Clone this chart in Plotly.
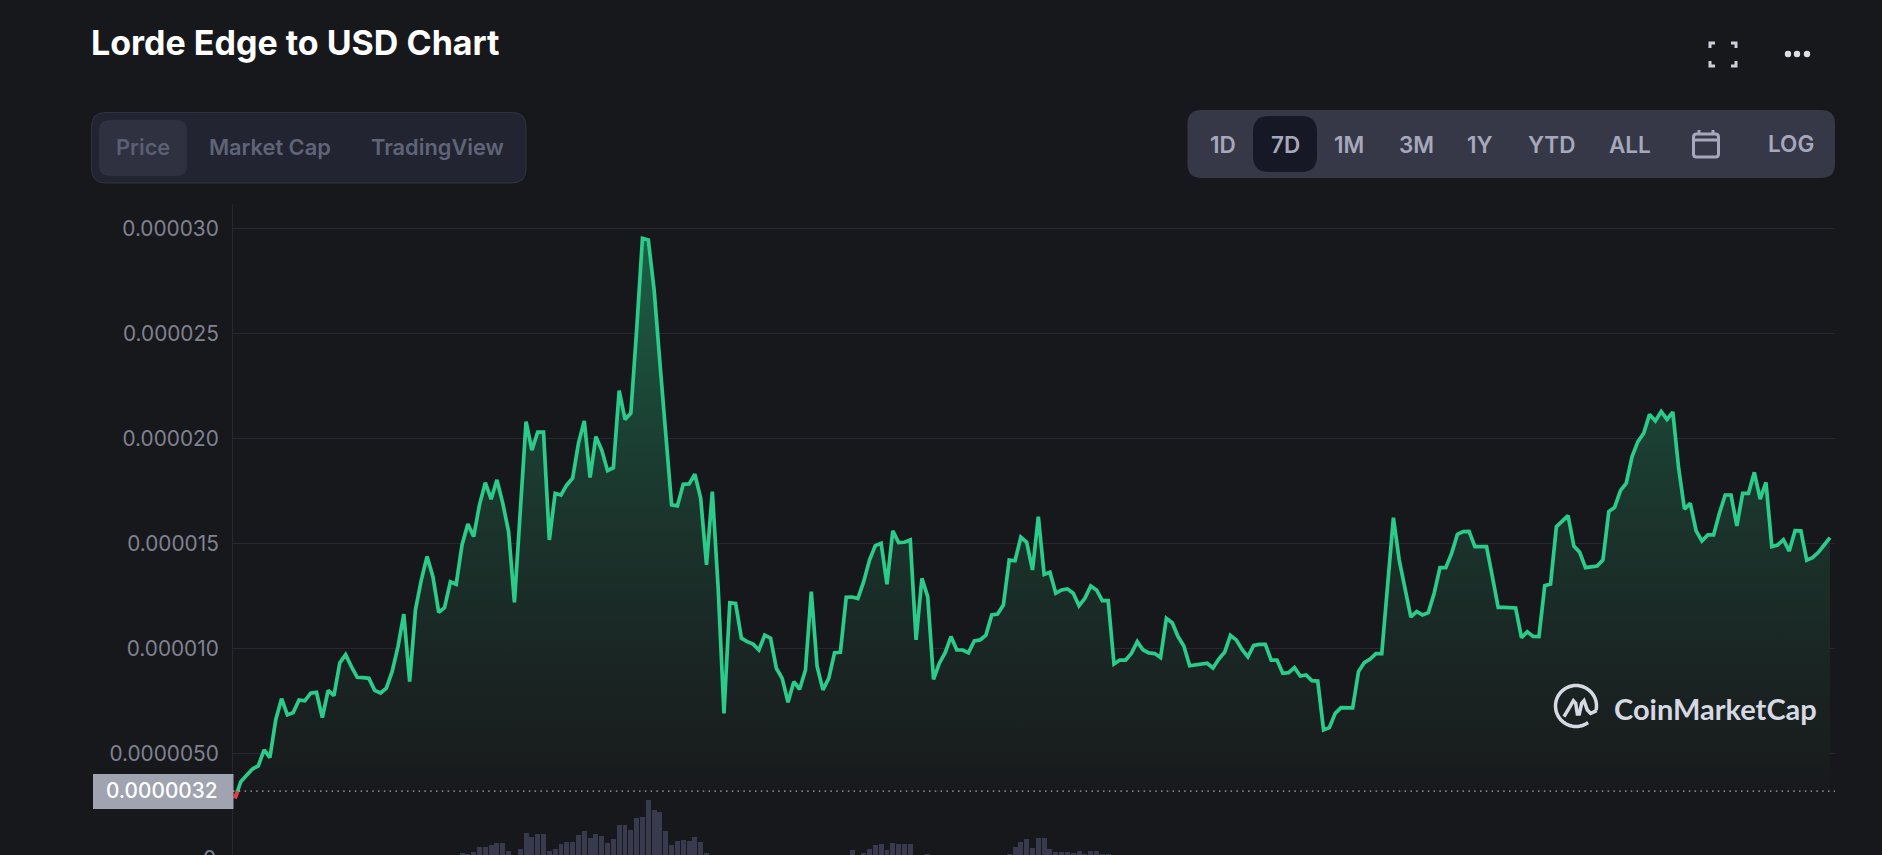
import math
import plotly.graph_objects as go

# ---- data (price in millionths of a USD) ----
title_text = "Lorde Edge to USD Chart"
price_micro = [
    2.86, 3.65, 3.95, 4.25, 4.40, 5.16, 4.80, 6.60, 7.60, 6.83, 6.94, 7.54, 7.50, 7.86, 7.90, 6.70,
    8.00, 7.75, 9.30, 9.70, 9.13, 8.62, 8.60, 8.57, 8.00, 7.87, 8.10, 8.90, 10.08, 11.63, 8.41, 11.83,
    13.25, 14.37, 13.41, 11.71, 11.94, 13.17, 13.05, 14.92, 15.92, 15.32, 16.83, 17.89, 17.10, 18.02,
    16.90, 15.56, 12.19,
    16.75, 20.79, 19.44, 20.29, 20.29, 15.16, 17.38, 17.30, 17.78, 18.10, 19.76, 20.83, 18.13, 20.08,
    19.44, 18.46, 18.60, 22.27, 20.90, 21.19, 25.16, 29.52, 29.44, 27.06, 23.57, 20.24, 16.83, 16.78,
    17.81, 17.83, 18.29, 17.14, 13.97, 17.46, 12.86, 6.90, 12.17, 12.14, 10.48, 10.32, 10.20, 9.92,
    10.63, 10.48, 9.05, 8.57, 7.43, 8.41, 8.05,
    8.97, 12.70, 9.13, 8.02, 8.57, 9.79, 9.81, 12.43, 12.44, 12.37, 13.17, 14.20, 14.89, 15.00, 13.05,
    15.59, 15.03, 15.05, 15.16, 10.40, 13.33, 12.46, 8.52, 9.29, 9.79, 10.56, 9.92, 9.92, 9.79, 10.35,
    10.40, 10.63, 11.59, 11.63, 12.06, 14.20, 14.17, 15.29, 15.05, 13.73, 16.27, 13.52, 13.62, 12.62,
    12.78, 12.83, 12.62, 12.03,
    12.38, 12.97, 12.78, 12.27, 12.27, 9.25, 9.44, 9.44, 9.76, 10.32, 9.92, 9.78, 9.75, 9.56, 11.43,
    11.22, 10.56, 10.11, 9.17, 9.21, 9.25, 9.29, 9.06, 9.49, 9.81, 10.62, 10.40, 9.95, 9.59, 10.14,
    10.19, 10.19, 9.44, 9.44, 8.81, 8.84, 9.08, 8.68, 8.73, 8.46, 8.44, 6.11, 6.22, 6.90, 7.17, 7.16,
    7.16, 8.89,
    9.32, 9.49, 9.75, 9.75, 13.25, 16.22, 14.20, 12.86, 11.49, 11.75, 11.59, 11.70, 12.62, 13.84, 13.84,
    14.52, 15.43, 15.56, 15.57, 14.84, 14.86, 14.84, 13.41, 11.95, 11.95, 11.94, 11.92, 10.51, 10.79,
    10.57, 10.56, 12.98, 13.06, 15.79, 16.08, 16.32, 14.87, 14.57, 13.84, 13.86, 13.92, 14.21, 16.51,
    16.71, 17.51, 17.86, 19.13, 19.84, 20.24, 21.14, 20.83, 21.27, 20.90, 21.25, 18.57, 16.63, 16.90,
    15.59, 15.11, 15.40, 15.40, 16.43, 17.30, 17.30, 15.83, 17.38, 17.38, 18.38, 17.10, 17.90, 14.84,
    14.92, 15.17, 14.63, 15.60, 15.59, 14.20, 14.32, 14.57, 14.92, 15.27,
]
volume_cluster_a = [4, 3, 5, 10, 10, 12, 14, 14, 6, 0, 8, 24, 20, 23, 23, 6, 8, 13, 15, 15, 22, 26,
                    19, 23, 21, 14, 18, 32, 32, 27, 39, 40, 57, 47, 45, 26, 12, 16, 17, 16, 20, 15, 4]
volume_cluster_b = [7, 0, 4, 8, 12, 13, 7, 14, 13, 13, 13, 0, 0, 3]
volume_cluster_c = [3, 10, 15, 18, 9, 19, 19, 8, 5, 5, 5, 4, 6, 3, 6, 6, 3, 3]
y_tick_values_micro = [5, 10, 15, 20, 25, 30]
y_tick_labels = ["0.0000050", "0.000010", "0.000015", "0.000020", "0.000025", "0.000030"]
current_price_micro = 3.2
current_price_label = "0.0000032"
tab_labels = ["Price", "Market Cap", "TradingView"]
range_labels = ["1D", "7D", "1M", "3M", "1Y", "YTD", "ALL", "LOG"]

# ---- geometry helpers ----
W, H = 1882, 855
FONT = "Inter"
BG = "#17181C"
px = lambda x: x / W
py = lambda y: 1 - y / H

def rrect(x0, y0, x1, y1, r):
    pts = [("M", x0 + r, y0), ("L", x1 - r, y0), ("Q", x1, y0, x1, y0 + r), ("L", x1, y1 - r),
           ("Q", x1, y1, x1 - r, y1), ("L", x0 + r, y1), ("Q", x0, y1, x0, y1 - r), ("L", x0, y0 + r),
           ("Q", x0, y0, x0 + r, y0)]
    out = []
    for p in pts:
        c = p[1:]
        s = " ".join(f"{px(c[i]):.6f},{py(c[i + 1]):.6f}" for i in range(0, len(c), 2))
        out.append(p[0] + s)
    return " ".join(out) + " Z"

def poly(points):
    return "M" + " L".join(f"{px(a):.6f},{py(b):.6f}" for a, b in points)

shapes, annots = [], []

def box(x0, y0, x1, y1, r, fill, line=None, lw=1):
    shapes.append(dict(type="path", xref="paper", yref="paper", path=rrect(x0, y0, x1, y1, r),
                       fillcolor=fill, line=dict(color=line or "rgba(0,0,0,0)", width=lw if line else 0)))

def stroke(points, color, lw=3):
    shapes.append(dict(type="path", xref="paper", yref="paper", path=poly(points),
                       line=dict(color=color, width=lw)))

def label(text, x, y, size, color, anchor="center", weight=400, family=FONT):
    annots.append(dict(xref="paper", yref="paper", x=px(x), y=py(y), text=text,
                       showarrow=False, xanchor=anchor, yanchor="middle",
                       font=dict(family=family, size=size, color=color, weight=weight)))

# ---- traces ----
prices = [v * 1e-6 for v in price_micro]
n = len(prices)
idx = list(range(n))
volume = [0] * 39 + volume_cluster_a
volume += [0] * (106 - len(volume)) + volume_cluster_b
volume += [0] * (133 - len(volume)) + volume_cluster_c
volume += [0] * (n - len(volume))
current = current_price_micro * 1e-6

L, R, T = 233, 1835, 204
X0, X1 = 235, 1830
step = (X1 - X0) / (n - 1)
PX_PER_UNIT = 21e6  # pixels per USD on the price axis
Y_ZERO = 858.3
VOL_ZERO = 857
TICK_SIZE = 20.8

fig = go.Figure()
fig.add_trace(go.Bar(x=idx, y=volume, yaxis="y2", width=0.85, marker=dict(color="#383A4D", line=dict(width=0)),
                     hoverinfo="skip", showlegend=False))
fig.add_trace(go.Scatter(x=idx, y=[current] * n, mode="lines", line=dict(width=0), hoverinfo="skip", showlegend=False))
fig.add_trace(go.Scatter(x=idx, y=prices, mode="lines", line=dict(color="#2BCB8A", width=3.7, shape="linear"),
                         fill="tonexty",
                         fillgradient=dict(type="vertical",
                                           colorscale=[[0, "rgba(23,24,28,1)"], [0.07, "rgba(25,29,30,1)"],
                                                       [0.27, "rgba(26,39,36,1)"], [0.5, "rgba(27,52,44,1)"],
                                                       [0.7, "rgba(27,68,53,1)"], [1, "rgba(27,96,70,1)"]]),
                         hoverinfo="skip", showlegend=False))
fig.add_trace(go.Scatter(x=[0, 0.45], y=[prices[0], current], mode="lines", line=dict(color="#EA3943", width=3.7),
                         hoverinfo="skip", showlegend=False))

# ---- chrome ----
label(title_text, 89, 42, 34, "#FFFFFF", "left", 700)

box(91.5, 112.5, 526, 183, 14, "#222431", "#303343", 1)
box(99, 120, 187, 176, 11, "#2F3141")
for t, cx, col in zip(tab_labels, [142.5, 270, 437], ["#5A5F72", "#5F6478", "#5F6478"]):
    label(t, cx, 147, 21.8, col, weight=600)

box(1187.5, 110, 1835, 178, 14, "#363848")
box(1253, 116, 1317, 172, 16, "#171826")
for t, cx, cy in zip(range_labels, [1222.5, 1285, 1349, 1416, 1480, 1551.5, 1630, 1791],
                     [145, 145, 145, 145, 145, 145, 145, 143.5]):
    label(t, cx, cy, 22.5, "#A6A8BB", weight=600)

# calendar icon
box(1693.5, 134, 1718.5, 157, 3, "rgba(0,0,0,0)", "#A6A8BB", 3)
stroke([(1693.5, 140), (1718.5, 140)], "#A6A8BB", 3)
stroke([(1699, 130), (1699, 135)], "#A6A8BB", 3)
stroke([(1713, 130), (1713, 135)], "#A6A8BB", 3)

# fullscreen icon
ICON = "#CDCFDA"
for (cx, cy, dx, dy) in [(1710, 43, 1, 1), (1736, 43, -1, 1), (1710, 66, 1, -1), (1736, 66, -1, -1)]:
    stroke([(cx + 5 * dx, cy), (cx, cy), (cx, cy + 5 * dy)], ICON, 3)
# "more" dots
for cx in (1788, 1797, 1807):
    shapes.append(dict(type="circle", xref="paper", yref="paper", x0=px(cx - 3.2), x1=px(cx + 3.2),
                       y0=py(54 + 3.2), y1=py(54 - 3.2), fillcolor="#DDDFE6", line=dict(width=0)))

# current price tag and dotted line
shapes.append(dict(type="rect", xref="paper", yref="paper", x0=px(93), x1=px(233.5), y0=py(809), y1=py(774),
                   fillcolor="#A0A3B0", line=dict(width=0)))
label(current_price_label, 162, 790.5, TICK_SIZE, "#FFFFFF", weight=500)
shapes.append(dict(type="line", xref="paper", yref="y", x0=px(L), x1=px(R), y0=current, y1=current,
                   line=dict(color="rgba(255,255,255,0.8)", width=1, dash="1.5px,4.3px")))
label("0", 218, Y_ZERO, TICK_SIZE, "#808290", "right")

# watermark
LOGO = "#D6D9E3"
mx, my, rad = 1576, 706, 20.5
arc = [(mx + rad * math.cos(math.radians(a)), my - rad * math.sin(math.radians(a))) for a in range(-12, 310, 6)]
stroke(arc, LOGO, 3.5)
sq = [(672, 680), (690, 650), (700, 632), (707, 640), (712, 672), (718, 672), (725, 640), (732, 632), (742, 660),
      (752, 670), (770, 662)]
stroke([(1340 + a / 3, 490 + b / 3) for a, b in sq], LOGO, 3.5)
label("CoinMarketCap", 1612, 708, 29, LOGO, "left", 700, "Lato")

fig.update_layout(
    width=W, height=H, margin=dict(l=0, r=0, t=0, b=0, pad=0), paper_bgcolor=BG, plot_bgcolor=BG,
    showlegend=False, bargap=0, shapes=shapes, annotations=annots,
    font=dict(family=FONT),
    xaxis=dict(domain=[px(L), px(R)], range=[-(X0 - L) / step, n - 1 + (R - X1) / step], visible=False,
               showgrid=False, zeroline=False, fixedrange=True),
    yaxis=dict(domain=[0, py(T)], range=[(Y_ZERO - H) / PX_PER_UNIT, (Y_ZERO - T) / PX_PER_UNIT],
               tickmode="array", tickvals=[v * 1e-6 for v in y_tick_values_micro], ticktext=y_tick_labels,
               tickfont=dict(family=FONT, size=TICK_SIZE, color="#808290"), ticks="", ticklabelstandoff=9,
               showgrid=True, gridcolor="#272832", gridwidth=1, zeroline=False,
               showline=True, linecolor="#25262F", linewidth=1, fixedrange=True),
    yaxis2=dict(domain=[0, py(T)], overlaying="y", side="right", range=[VOL_ZERO - H, VOL_ZERO - T], visible=False,
                showgrid=False, zeroline=False, fixedrange=True),
)

fig.write_html("out.html", config=dict(displayModeBar=False),
               post_script="document.body.style.margin='0';document.body.style.overflow='hidden';")
